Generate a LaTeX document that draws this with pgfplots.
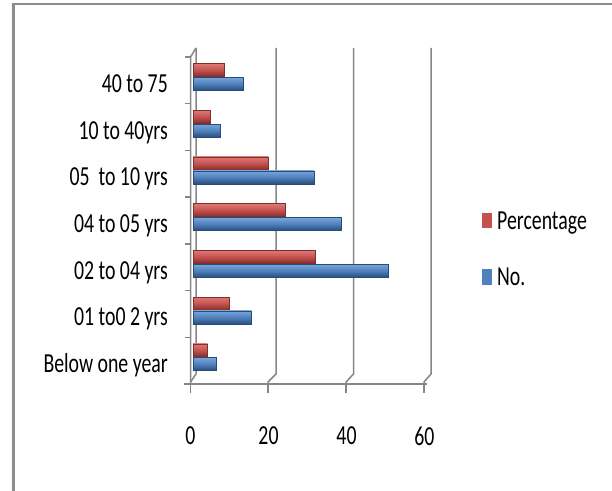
\documentclass[border=0pt]{standalone}
\usepackage{fontspec}
\setmainfont{Carlito}[FakeStretch=0.72]
\usepackage{pgfplots}
\pgfplotsset{compat=1.18}
\definecolor{redbar}{RGB}{196,82,79}
\definecolor{redlight}{RGB}{222,120,116}
\definecolor{reddark}{RGB}{130,45,43}
\definecolor{bluebar}{RGB}{79,129,189}
\definecolor{bluelight}{RGB}{122,165,218}
\definecolor{bluedark}{RGB}{40,76,122}
\definecolor{gridgray}{RGB}{134,134,134}
\newcommand\lblfont{\fontsize{27.5bp}{33bp}\selectfont}
\pgfplotsset{
  pctbar/.style={xbar, bar shift=10.3bp, draw=reddark, line width=0.5bp,
    top color=redlight, bottom color=reddark, middle color=redbar},
  nobar/.style={xbar, bar shift=-3.5bp, draw=bluedark, line width=0.5bp,
    top color=bluelight, bottom color=bluedark, middle color=bluebar}}
\begin{document}
\begin{tikzpicture}
\path[use as bounding box] (0,0) rectangle (612bp,491bp);
\begin{scope}[shift={(0bp,491bp)}, x=1bp, y=-1bp]
% frame
\draw[line width=2bp, color=gray!90] (13.5,495) -- (13.5,4.5) -- (615,4.5);
% walls and grid
\begin{scope}[line width=1.5bp, draw=gridgray]
\foreach \k in {0,...,7} {\draw (185,57+46.71*\k) -- (190.5,57+46.71*\k);}
\draw (196,48) -- (190.5,57) -- (190.5,384);
\draw (196,48) -- (196,374) -- (190.5,382);
\draw (184,384) -- (427,384);
\foreach \xf in {190.5,268,346,424} {\draw (\xf,384) -- (\xf,393);}
\foreach \xf/\xb in {268/276,346/353.5,424/431} {\draw (\xb,48) -- (\xb,374) -- (\xf,382) -- (\xf,384);}
\end{scope}
% legend
\fill[redbar] (481.7,212.7) rectangle (492.3,228.3);
\node[anchor=base west, inner sep=0pt, font=\lblfont] at (497,229.3) {Percentage};
\fill[bluebar] (481.7,269.5) rectangle (492.3,285.5);
\node[anchor=base west, inner sep=0pt, font=\lblfont] at (497,286) {No.};
\end{scope}
\begin{axis}[at={(193bp,107bp)}, anchor=south west, scale only axis,
  width=234bp, height=327bp,
  xmin=0, xmax=60, ymin=-0.5, ymax=6.5,
  axis line style={draw=none}, major tick length=0pt,
  xtick={0,20,40,60}, ytick={0,...,6},
  yticklabels={Below one year, 01 to0 2 yrs, 02 to 04 yrs, 04 to 05 yrs, 05~ to 10 yrs, 10 to 40yrs, 40 to 75},
  xticklabel style={anchor=center, yshift=-52bp, xshift=-2.5bp, font=\lblfont},
  yticklabel style={anchor=base east, inner sep=0pt, xshift=-25bp, yshift=-12bp, font=\lblfont},
  /pgf/number format/assume math mode=true,
  xbar, bar width=13bp, clip=false]
% Percentage (one bar per plot so each bar gets its own shading)
\addplot[pctbar] coordinates {(3.75,0)};
\addplot[pctbar] coordinates {(9.375,1)};
\addplot[pctbar] coordinates {(31.25,2)};
\addplot[pctbar] coordinates {(23.75,3)};
\addplot[pctbar] coordinates {(19.375,4)};
\addplot[pctbar] coordinates {(4.375,5)};
\addplot[pctbar] coordinates {(8.125,6)};
% No.
\addplot[nobar] coordinates {(6,0)};
\addplot[nobar] coordinates {(15,1)};
\addplot[nobar] coordinates {(50,2)};
\addplot[nobar] coordinates {(38,3)};
\addplot[nobar] coordinates {(31,4)};
\addplot[nobar] coordinates {(7,5)};
\addplot[nobar] coordinates {(13,6)};
\end{axis}
\end{tikzpicture}
\end{document}
